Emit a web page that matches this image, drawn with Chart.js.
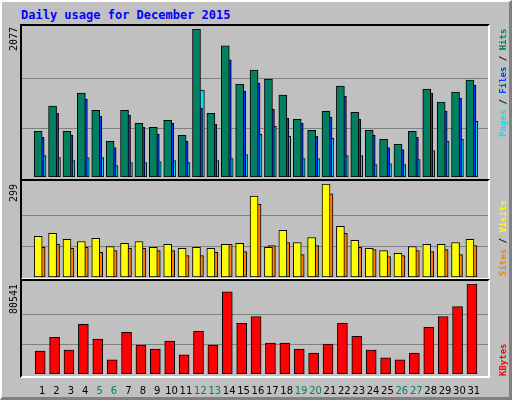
<!DOCTYPE html>
<html><head><meta charset="utf-8">
<script src="https://cdn.jsdelivr.net/npm/chart.js@4"></script>
<style>
body{margin:0;background:#fff}
#wrap{position:absolute;left:0;top:0;background:#c0c0c0;border-top:2px solid #fff;border-left:2px solid #fff;border-right:3px solid #808080;border-bottom:3px solid #808080;box-sizing:border-box;width:512px;height:400px}
#title{position:absolute;left:19px;top:6px;font:bold 12px "DejaVu Sans Mono";color:#0000ff}
canvas{position:absolute;left:0}
.frame{position:absolute;left:20px;width:470px;border-top:2px solid #000;border-left:2px solid #000;border-right:2px solid #fff;border-bottom:2px solid #fff;box-sizing:border-box;pointer-events:none}
</style></head><body>
<div id="wrap">
<div id="title">Daily usage for December 2015</div>
</div>
<canvas id="c1" width="512" height="180" style="top:0"></canvas>
<canvas id="c2" width="512" height="100" style="top:180px"></canvas>
<canvas id="c3" width="512" height="120" style="top:280px"></canvas>
<div class="frame" style="top:24px;height:157px"></div>
<div class="frame" style="top:179px;height:101px"></div>
<div class="frame" style="top:279px;height:99px"></div>
<script>
const days=[1,2,3,4,5,6,7,8,9,10,11,12,13,14,15,16,17,18,19,20,21,22,23,24,25,26,27,28,29,30,31];
const weekend=[5,6,12,13,19,20,26,27];
const hits=[640,994,640,1177,937,499,937,754,697,796,584,2077,895,1842,1305,1502,1375,1149,810,655,923,1276,909,655,527,457,640,1234,1050,1191,1361];
const files=[556,895,584,1093,852,414,867,697,598,754,499,966,739,1644,1206,1319,951,824,754,570,838,1135,810,584,414,386,556,1177,923,1107,1290];
const pages=[301,273,231,273,273,160,203,203,217,231,203,1220,231,259,316,598,711,570,259,259,542,301,301,174,188,174,245,372,499,528,782];
const visits=[131,140,121,114,124,98,108,114,95,105,92,95,92,105,108,260,95,150,111,127,299,163,118,92,85,76,98,105,105,111,121];
const sites=[95,105,92,95,79,85,92,92,85,85,69,69,79,105,82,234,101,111,72,101,267,140,95,88,66,69,85,82,88,72,101];
const kbytes=[20576,32922,21458,44386,31158,12640,37331,25867,22340,29394,17049,38213,25867,73487,45268,51440,27631,27631,22340,18813,26749,45268,33804,21458,14403,12640,18813,41740,51440,60259,80541];
const maxLabels=['2077','299','80541'];

function ds(vals,off,color,w){return{data:days.map((d,i)=>({x:d+off,y:vals[i]})),backgroundColor:color,borderColor:'#000',borderWidth:1,borderSkipped:false,barThickness:w,grouped:false};}
const textPlugin={id:'txt',afterDraw(c,a,o){const ctx=c.ctx;ctx.save();
 ctx.font='10px "DejaVu Sans Mono"';ctx.fillStyle='#000';ctx.translate(19,o.top);ctx.rotate(-Math.PI/2);ctx.textAlign='right';ctx.textBaseline='bottom';ctx.fillText(o.max,0,0);ctx.restore();
 ctx.save();ctx.font='bold 9px "DejaVu Sans Mono"';ctx.translate(504,o.bottom);ctx.rotate(-Math.PI/2);ctx.textAlign='left';ctx.textBaseline='middle';let x=0;
 o.parts.forEach(p=>{ctx.fillStyle=p[1];ctx.fillText(p[0],x,0);x+=ctx.measureText(p[0]).width;});ctx.restore();}};
const gridPlugin={id:'grd',beforeDatasetsDraw(c){const a=c.chartArea,y=c.scales.y,ctx=c.ctx;ctx.save();ctx.strokeStyle='#808080';ctx.lineWidth=1;
 [1/3,2/3].forEach(f=>{const py=Math.round(y.getPixelForValue(y.max*f))+0.5;ctx.beginPath();ctx.moveTo(a.left,py);ctx.lineTo(a.right,py);ctx.stroke();});ctx.restore();}};
function make(id,datasets,max,pad,txt,showX){
 return new Chart(document.getElementById(id),{type:'bar',data:{datasets},
 options:{responsive:false,animation:false,layout:{padding:pad},plugins:{legend:{display:false},tooltip:{enabled:false},txt},
 scales:{x:{type:'linear',min:0.13,max:31.6,display:showX,grid:{display:false},border:{display:false},
   afterBuildTicks(s){s.ticks=days.map(d=>({value:d}));},
   ticks:{autoSkip:false,maxRotation:0,padding:3,font:{family:'DejaVu Sans',size:10},color:ctx=>weekend.includes(ctx.tick.value)?'#008060':'#000',callback:v=>String(v)}},
  y:{min:0,max:max,display:false}}},plugins:[textPlugin,gridPlugin]});}
make('c1',[ds(hits,-0.27,'#008060',8),ds(files,-0.13,'#0040ff',8),ds(pages,0,'#00e0ff',8)],2077,{left:22,right:22,top:29,bottom:3},
 {max:maxLabels[0],top:27,bottom:137,parts:[['Pages','#00e0ff'],[' / ','#000'],['Files','#0040ff'],[' / ','#000'],['Hits','#008060']]},false);
make('c2',[ds(visits,-0.27,'#ffff00',8),ds(sites,-0.03,'#ff8000',7)],299,{left:22,right:22,top:4,bottom:3},
 {max:maxLabels[1],top:4,bottom:96,parts:[['Sites','#ff8000'],[' / ','#000'],['Visits','#ffff00']]},false);
make('c3',[ds(kbytes,-0.13,'#ff0000',10)],80541,{left:22,right:22,top:4,bottom:0},
 {max:maxLabels[2],top:4,bottom:96,parts:[['KBytes','#ff0000']]},true);
</script></body></html>
